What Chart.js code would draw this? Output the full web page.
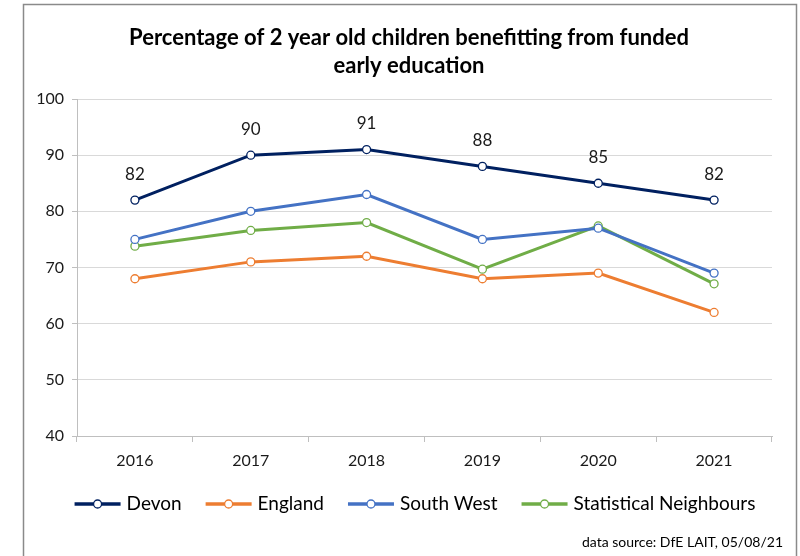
<!DOCTYPE html>
<html>
<head>
<meta charset="utf-8">
<script src="https://cdn.jsdelivr.net/npm/chart.js@4.4.1/dist/chart.umd.min.js"></script>
<style>
  html, body { margin: 0; padding: 0; background: #ffffff; }
  #wrap { width: 800px; height: 556px; position: relative; }
</style>
</head>
<body>
<div id="wrap"><canvas id="c" width="800" height="556"></canvas></div>
<script>
const years = ['2016', '2017', '2018', '2019', '2020', '2021'];
const devon = [82, 90, 91, 88, 85, 82];
const england = [68, 71, 72, 68, 69, 62];
const southWest = [75, 80, 83, 75, 77, 69];
const statNeighbours = [73.8, 76.6, 78, 69.7, 77.4, 67.1];
const devonLabels = ['82', '90', '91', '88', '85', '82'];
const yTicks = [40, 50, 60, 70, 80, 90, 100];
const titleLines = ['Percentage of 2 year old children benefitting from funded', 'early education'];
const sourceText = 'data source: DfE LAIT, 05/08/21';

const FONT = 'Lato, "Open Sans", sans-serif';
const colors = { devon: '#002060', england: '#ED7D31', sw: '#4472C4', sn: '#70AD47' };

function ds(label, data, color) {
  return {
    label, data,
    borderColor: color, backgroundColor: color,
    borderWidth: 3,
    pointRadius: 4, pointHoverRadius: 4,
    pointBackgroundColor: '#ffffff', pointBorderColor: color, pointBorderWidth: 1.3,
    tension: 0, fill: false
  };
}

const framePlugin = {
  id: 'frame',
  beforeDraw(chart) {
    const ctx = chart.ctx;
    ctx.save();
    ctx.fillStyle = '#ffffff';
    ctx.fillRect(0, 0, chart.width, chart.height);
    ctx.strokeStyle = '#8a8a8a';
    ctx.lineWidth = 1.5;
    ctx.strokeRect(23.5, 4.5, 773, 600);
    ctx.restore();
  },
  afterDraw(chart) {
    const ctx = chart.ctx;
    ctx.save();
    // title
    ctx.font = 'bold 22px ' + FONT;
    ctx.fillStyle = '#000000';
    ctx.textAlign = 'center';
    ctx.textBaseline = 'middle';
    titleLines.forEach((t, i) => ctx.fillText(t, 409, 38 + i * 28));

    // legend
    ctx.font = '19px ' + FONT;
    const symW = 46, gapText = 6, gapItem = 24, cy = 504;
    const items = chart.data.datasets.map(d => ({ text: d.label, color: d.borderColor, w: ctx.measureText(d.label).width }));
    let total = items.reduce((s, it) => s + symW + gapText + it.w, 0) + gapItem * (items.length - 1);
    let x = 415 - total / 2;
    items.forEach(it => {
      ctx.strokeStyle = it.color;
      ctx.lineWidth = 3.5;
      ctx.beginPath(); ctx.moveTo(x, cy); ctx.lineTo(x + symW, cy); ctx.stroke();
      ctx.beginPath(); ctx.arc(x + symW / 2, cy, 4, 0, Math.PI * 2);
      ctx.fillStyle = '#ffffff'; ctx.fill();
      ctx.lineWidth = 1.3; ctx.stroke();
      ctx.fillStyle = '#000000';
      ctx.textAlign = 'left';
      ctx.fillText(it.text, x + symW + gapText, cy);
      x += symW + gapText + it.w + gapItem;
    });

    // source
    ctx.font = '14px ' + FONT;
    ctx.fillStyle = '#000000';
    ctx.textAlign = 'right';
    ctx.fillText(sourceText, 783, 542);
    ctx.restore();
  }
};

const labelPlugin = {
  id: 'devonLabels',
  afterDatasetsDraw(chart) {
    const meta = chart.getDatasetMeta(0);
    const ctx = chart.ctx;
    ctx.save();
    ctx.font = '17px ' + FONT;
    ctx.fillStyle = '#1a1a1a';
    ctx.textAlign = 'center';
    ctx.textBaseline = 'middle';
    meta.data.forEach((pt, i) => {
      ctx.fillText(devonLabels[i], pt.x, pt.y - 26);
    });
    ctx.restore();
  }
};

new Chart(document.getElementById('c'), {
  type: 'line',
  data: {
    labels: years,
    datasets: [
      ds('Devon', devon, colors.devon),
      ds('England', england, colors.england),
      ds('South West', southWest, colors.sw),
      ds('Statistical Neighbours', statNeighbours, colors.sn)
    ]
  },
  options: {
    responsive: false,
    animation: false,
    events: [],
    layout: { padding: { left: 0, right: 28, top: 99, bottom: 80 } },
    plugins: {
      title: { display: false },
      legend: { display: false },
      tooltip: { enabled: false }
    },
    scales: {
      x: {
        offset: true,
        afterFit(scale) { scale.height = 40; },
        grid: { drawOnChartArea: false, drawTicks: true, tickLength: 6, offset: true, color: '#bfbfbf', tickColor: '#bfbfbf' },
        border: { display: true, color: '#bfbfbf', width: 1 },
        ticks: { color: '#1a1a1a', font: { family: FONT, size: 16 }, padding: 9, maxRotation: 0 }
      },
      y: {
        min: 40, max: 100,
        afterBuildTicks(scale) { scale.ticks = yTicks.map(v => ({ value: v })); },
        afterFit(scale) { scale.width = 77; },
        grid: { color: '#d9d9d9', tickColor: '#bfbfbf', tickLength: 5, drawTicks: true },
        border: { display: true, color: '#bfbfbf', width: 1 },
        ticks: { color: '#1a1a1a', font: { family: FONT, size: 16 }, padding: 8 }
      }
    }
  },
  plugins: [framePlugin, labelPlugin]
});
</script>
</body>
</html>
